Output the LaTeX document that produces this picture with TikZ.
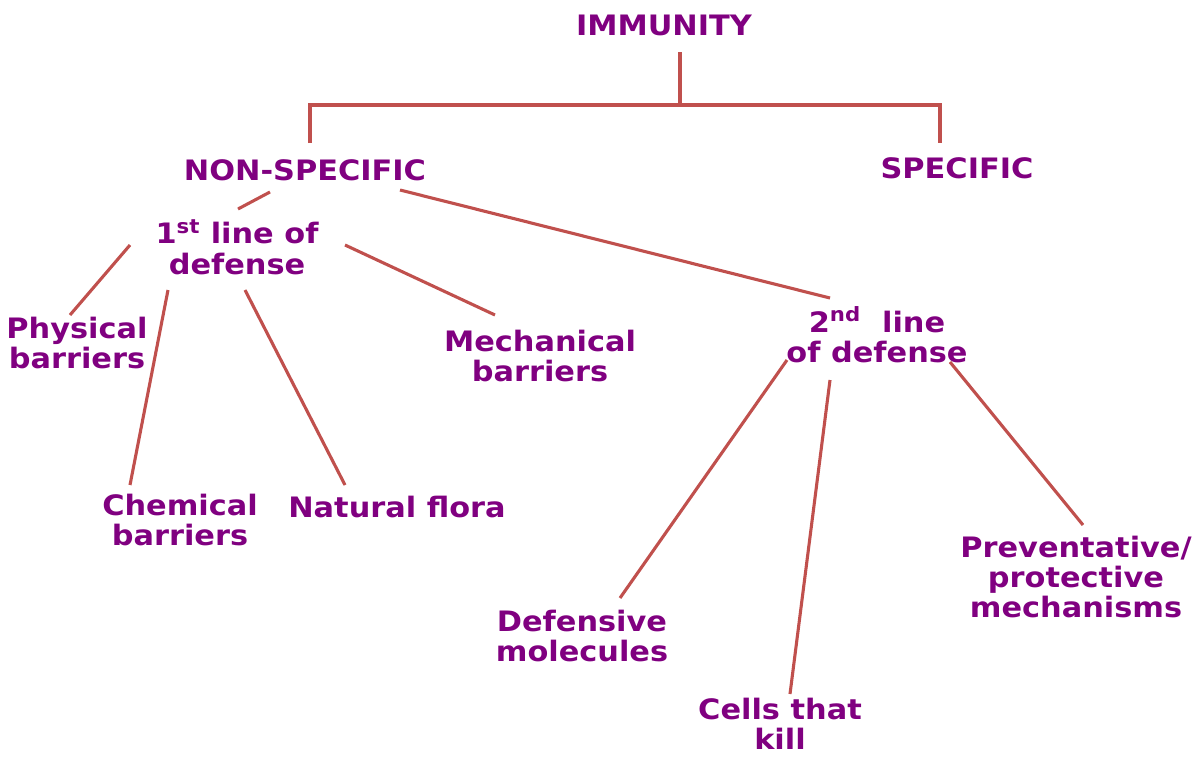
\documentclass[tikz,border=0pt]{standalone}
\usepackage{fontspec}
\setmainfont{DejaVu Sans}[FakeStretch=1.08]
\usetikzlibrary{calc}
\definecolor{lila}{HTML}{800080}
\definecolor{linie}{HTML}{C0504D}

\begin{document}
\begin{tikzpicture}[x=0.025cm, y=-0.025cm,
    begriff/.style={font=\bfseries\fontsize{20}{21.5}\selectfont, text=lila,
                    align=center, inner sep=0pt},
    zweig/.style={draw=linie, line width=2.2pt}]
  \useasboundingbox (0,0) rectangle (1194,758);

  % Begriffe
  \node[begriff] (imm)   at (664,25)  {IMMUNITY};
  \node[begriff] (non)   at (305,170) {NON-SPECIFIC};
  \node[begriff] (spec)  at (957,168) {SPECIFIC};
  \node[begriff] (first) at (237,247) {1\textsuperscript{st} line of\\defense};
  \node[begriff] (phys)  at (77,343)  {Physical\\barriers};
  \node[begriff] (chem)  at (180,520) {Chemical\\barriers};
  \node[begriff] (flora) at (397,507) {Natural flora};
  \node[begriff] (mech)  at (540,356) {Mechanical\\barriers};
  \node[begriff] (second) at (877,335) {2\textsuperscript{nd}\ \ line\\of defense};
  \node[begriff] (mol)   at (582,636) {Defensive\\molecules};
  \node[begriff] (cells) at (780,724) {Cells that\\kill};
  \node[begriff] (prev)  at (1076,577) {Preventative/\\protective\\mechanisms};

  % Gabel unter IMMUNITY
  \coordinate (gabel) at ($(imm)+(16,80)$);
  \draw[zweig] ($(imm)+(16,27)$) -- (gabel);
  \draw[zweig] ($(non)+(5,-27)$) |- (gabel) -| ($(spec)+(-17,-25)$);

  % Zweige
  \draw[zweig] ($(non)+(-35,22)$) -- ($(first)+(1,-38)$);
  \draw[zweig] ($(non)+(95,20)$) -- ($(second)+(-47,-37)$);
  \draw[zweig] ($(first)+(-107,-2)$) -- ($(phys)+(-7,-28)$);
  \draw[zweig] ($(first)+(-69,43)$) -- ($(chem)+(-50,-35)$);
  \draw[zweig] ($(first)+(8,43)$) -- ($(flora)+(-52,-22)$);
  \draw[zweig] ($(first)+(108,-2)$) -- ($(mech)+(-45,-41)$);
  \draw[zweig] ($(second)+(-90,25)$) -- ($(mol)+(38,-38)$);
  \draw[zweig] ($(second)+(-47,45)$) -- ($(cells)+(10,-30)$);
  \draw[zweig] ($(second)+(73,27)$) -- ($(prev)+(7,-52)$);
\end{tikzpicture}
\end{document}
